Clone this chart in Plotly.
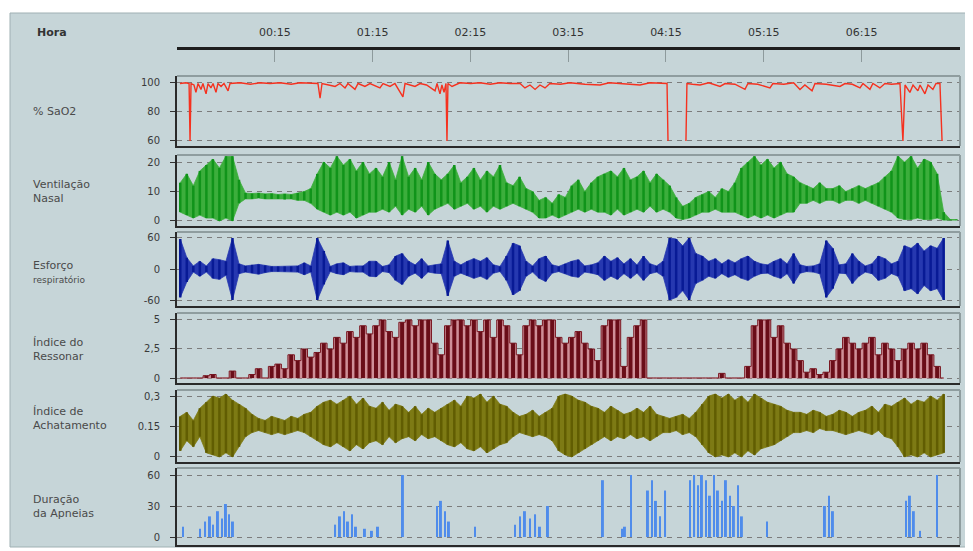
import plotly.graph_objects as go

# The page body has an 8px margin, so the figure is sized to fit inside the 973x551 window
WIN_W, WIN_H = 973, 551
OFF = 8
FW, FH = WIN_W - OFF, WIN_H - OFF
BIN = 4  # minutes per envelope bin (time axis in minutes from 23:15)

tick_minutes = [60, 120, 180, 240, 300, 360, 420, 480]
tick_labels = ["00:15", "01:15", "02:15", "03:15", "04:15", "05:15", "06:15", "07:15"]

panel_labels = ["% SaO2", "Ventilação<br>Nasal",
                "Esforço<br><span style='font-size:9px'>respiratório</span>",
                "Índice do<br>Ressonar", "Índice de<br>Achatamento", "Duração<br>da Apneias"]

y_tickvals = [[60, 80, 100], [0, 10, 20], [-60, 0, 60], [0, 2.5, 5], [0, 0.15, 0.3], [0, 30, 60]]
y_ticktext = [["60", "80", "100"], ["0", "10", "20"], ["-60", "0", "60"], ["0", "2,5", "5"],
              ["0", "0.15", "0,3"], ["0", "30", "60"]]

# % SaO2 (minute, value)
sao2_t = [1.8, 5.5, 7.4, 8.0, 8.6, 10.4, 11.6, 12.9, 14.7, 15.9, 17.8, 19.0, 20.8, 22.1, 23.9, 25.1, 27.0, 28.8,
          31.3, 32.5, 38.6, 45, 50.9, 57, 63.1, 70, 75.4, 82, 86.4, 87.7, 88.9, 93, 96.9, 99.9, 103.0, 104.8,
          109.1, 111.0, 115.2, 118.3, 124.4, 126.3, 130.6, 133.6, 138.5, 139.8, 145.9, 149.0, 153, 158.2, 159.4,
          161.2, 162.4, 163.7, 164.9, 165.5, 166.1, 168.6, 173.5, 180, 185.7, 192, 198.0, 204, 210.3, 213.3,
          216.4, 219.5, 222.5, 225.6, 228.6, 235, 240.9, 250, 259.3, 265, 271.6, 278, 283.8, 290, 296.1, 300.4,
          301.0, 302, 312.0, 312.6, 316, 320.6, 326, 332.9, 336, 342, 348.2, 350.0, 356, 363.5, 365.3, 372, 378,
          381.9, 384.9, 389.3, 391.1, 398, 406.4, 409.5, 414, 418.7, 420.5, 424.8, 426.6, 430.9, 434.0, 438,
          443.2, 445.0, 446.3, 449.3, 451.2, 454.2, 455.5, 458.5, 460.4, 463.4, 465.3, 467.7, 469.0]
sao2_v = [99, 99.5, 99, 60, 99, 98, 93, 99, 95, 99, 92, 99, 96, 99, 93, 99, 97, 99,
          94, 99, 99.5, 98.5, 99.5, 99, 99.5, 98.5, 99.5, 99, 99, 89, 99, 98, 97, 99, 96, 99,
          95, 99, 97, 99, 96, 99, 97, 99, 90, 99, 97, 99, 98, 94, 99,
          92, 98, 93, 99, 60, 99, 97, 99.5, 99, 99.5, 98.5, 99.5, 99, 99, 96,
          98, 95, 98, 96, 99, 98.5, 99.5, 98.5, 98, 99.5, 99, 98.5, 98, 99.5, 99, 99,
          60, None, 60, 99, 98.5, 98, 99.5, 97, 99, 98.5, 95, 99, 98.5, 96, 99, 98.5, 99.5,
          95, 98, 94, 99, 98.5, 97, 99, 98.5, 96, 99, 95, 99, 96, 99, 98.5,
          99, 60, 98, 93, 98, 94, 98, 92, 98, 95, 99, 99, 60]

# Ventilação Nasal envelope per 4-minute bin
vent_lo = [3, 2, 1, 2, 1, 1, 0, 1, 0, 6, 7.5, 7.5, 7.8, 7.5, 7.5, 7.5, 7.3, 7.5, 7, 7,
           6, 4, 3, 2, 3, 2, 3, 1, 2, 3, 3, 4, 3, 5, 2, 4, 3, 5, 2, 4,
           5, 6, 4, 5, 6, 4, 5, 3, 5, 4, 5, 6, 5, 4, 3, 1, 1, 2, 1, 2,
           3, 4, 3, 4, 3, 3, 2, 4, 2, 3, 4, 3, 5, 3, 4, 3, 1, 0.5, 1, 2,
           3, 3, 4, 3, 3, 3, 2, 1, 2, 1, 2, 1, 2, 3, 3, 6, 6, 7, 6, 7,
           7, 6, 7, 7, 6, 7, 6, 5, 4, 3, 1, 0.5, 0.5, 1, 0.5, 0.5, 1, 0.3, 0.3, 0.3]
vent_hi = [13, 16, 12, 17, 19, 21, 18, 22, 22, 14, 9.5, 9.3, 9.5, 9.2, 9.3, 9, 9.2, 9, 9.5, 10,
           11, 16, 20, 18, 22, 19, 21, 17, 20, 16, 18, 15, 20, 14, 22, 15, 18, 14, 20, 16,
           14, 16, 19, 13, 15, 18, 14, 17, 15, 19, 13, 12, 15, 11, 10, 7, 8, 6, 9, 8,
           12, 14, 10, 13, 15, 16, 17, 15, 18, 14, 15, 17, 13, 16, 14, 12, 8, 5, 6, 8,
           9, 10, 8, 11, 10, 13, 18, 20, 22, 19, 21, 18, 20, 16, 15, 13, 12, 11, 13, 11,
           11, 12, 10, 11, 12, 11, 12, 13, 15, 17, 22, 20, 22, 18, 21, 20, 16, 3, 0.5, 0.5]

# Esforço respiratório envelope
esf_hi = [58, 22, 6, 15, 6, 20, 18, 15, 60, 10, 6, 8, 9, 7, 5, 5, 5, 5, 6, 12,
          6, 60, 35, 5, 10, 12, 5, 6, 6, 15, 15, 5, 8, 25, 30, 15, 8, 20, 6, 8,
          10, 55, 15, 8, 15, 20, 15, 22, 8, 5, 25, 50, 45, 15, 6, 20, 25, 8, 5, 10,
          15, 18, 6, 8, 12, 25, 15, 22, 10, 20, 8, 25, 10, 6, 15, 60, 58, 45, 60, 30,
          25, 15, 20, 10, 18, 12, 20, 25, 15, 10, 8, 15, 20, 10, 30, 8, 5, 6, 10, 55,
          40, 8, 10, 30, 15, 6, 10, 25, 20, 10, 15, 45, 40, 50, 35, 45, 40, 60, None, None]
esf_lo = [-55, -25, -6, -14, -6, -18, -20, -12, -60, -9, -6, -8, -10, -7, -5, -5, -5, -5, -6, -11,
          -6, -60, -30, -5, -9, -11, -5, -6, -6, -14, -15, -5, -7, -22, -30, -14, -8, -18, -6, -8,
          -9, -52, -14, -8, -13, -18, -14, -20, -8, -5, -22, -50, -42, -14, -6, -18, -24, -8, -5, -9,
          -14, -16, -6, -8, -11, -22, -14, -20, -9, -18, -8, -22, -9, -6, -14, -60, -55, -42, -60, -28,
          -22, -14, -18, -9, -16, -11, -18, -22, -14, -9, -8, -14, -18, -9, -28, -8, -5, -6, -9, -55,
          -38, -8, -9, -28, -14, -6, -9, -22, -18, -9, -14, -42, -38, -48, -32, -42, -38, -60, None, None]

# Índice do Ressonar (upper envelope, from 0)
ress_hi = [0, 0, 0, 0, 0.2, 0.3, 0, 0, 0.6, 0, 0, 0.3, 0.8, 0, 1.0, 1.2, 0.8, 2.0, 1.5, 2.5,
           1.8, 2.2, 3.0, 2.5, 3.5, 3.0, 4.0, 3.5, 4.5, 3.8, 4.5, 5, 4.0, 3.5, 4.8, 5, 4.5, 5, 5, 3.0,
           2.0, 4.5, 5, 5, 4.5, 5, 4.0, 5, 3.5, 5, 4.5, 3.0, 2.0, 4.5, 5, 4.5, 5, 5, 3.5, 3.0,
           3.5, 4, 3, 2.5, 1.5, 4.5, 5, 5, 1.0, 3.5, 4.5, 5, 0, 0, 0, 0, 0, 0, 0, 0,
           0, 0, 0, 0.4, 0, 0, 0, 1.0, 4.5, 5, 5, 3.5, 4.5, 3.0, 2.5, 1.5, 0.5, 0.8, 0.3, 0.5,
           1.5, 2.5, 3.5, 3.0, 2.5, 3.0, 3.5, 2.0, 3.0, 2.5, 1.5, 2.5, 3.0, 2.5, 3.0, 2.0, 1.0, 0, None, None]
ress_lo = [0 if v is not None else None for v in ress_hi]

# Índice de Achatamento envelope
ach_lo = [0.03, 0.08, 0.05, 0.10, 0.02, 0.01, 0.0, 0.02, 0.0, 0.05, 0.10, 0.12, 0.13, 0.12, 0.11,
          0.12, 0.11, 0.12, 0.13, 0.12, 0.10, 0.08, 0.06, 0.05, 0.07, 0.05, 0.03, 0.06, 0.04, 0.07,
          0.08, 0.06, 0.10, 0.07, 0.09, 0.10, 0.08, 0.11, 0.09, 0.10, 0.08, 0.06, 0.05, 0.07, 0.04,
          0.03, 0.05, 0.02, 0.04, 0.06, 0.07, 0.10, 0.12, 0.11, 0.10, 0.11, 0.10, 0.08, 0.03, 0.01,
          0.0, 0.02, 0.04, 0.06, 0.08, 0.10, 0.08, 0.10, 0.09, 0.11, 0.09, 0.10, 0.08, 0.10, 0.12,
          0.12, 0.13, 0.11, 0.12, 0.10, 0.06, 0.02, 0.0, 0.01, 0.0, 0.02, 0.0, 0.03, 0.01, 0.04,
          0.05, 0.06, 0.08, 0.10, 0.12, 0.12, 0.13, 0.12, 0.14, 0.13, 0.13, 0.12, 0.11, 0.12, 0.13,
          0.12, 0.11, 0.13, 0.10, 0.09, 0.05, 0.0, 0.01, 0.0, 0.02, 0.0, 0.01, 0.02, None, None]
ach_hi = [0.20, 0.22, 0.18, 0.24, 0.27, 0.30, 0.29, 0.31, 0.28, 0.26, 0.24, 0.21, 0.19, 0.18, 0.20,
          0.19, 0.18, 0.20, 0.19, 0.21, 0.22, 0.25, 0.27, 0.28, 0.26, 0.28, 0.30, 0.26, 0.29, 0.25,
          0.24, 0.27, 0.23, 0.26, 0.25, 0.22, 0.25, 0.21, 0.24, 0.22, 0.24, 0.26, 0.28, 0.25, 0.30,
          0.29, 0.31, 0.27, 0.30, 0.26, 0.25, 0.22, 0.20, 0.21, 0.23, 0.20, 0.22, 0.24, 0.30, 0.31,
          0.30, 0.28, 0.27, 0.25, 0.24, 0.22, 0.25, 0.23, 0.21, 0.22, 0.24, 0.22, 0.25, 0.21, 0.20,
          0.19, 0.20, 0.21, 0.19, 0.22, 0.26, 0.30, 0.31, 0.29, 0.31, 0.28, 0.30, 0.27, 0.31, 0.29,
          0.27, 0.26, 0.25, 0.23, 0.22, 0.22, 0.21, 0.23, 0.22, 0.20, 0.21, 0.23, 0.22, 0.20, 0.22,
          0.23, 0.25, 0.22, 0.26, 0.25, 0.27, 0.29, 0.26, 0.28, 0.27, 0.30, 0.28, 0.31, None, None]

# Duração da Apneias (minute, seconds)
apn_t = [3.7, 14.1, 17.2, 20.2, 22.1, 25.1, 27.6, 30.0, 31.9, 34.3, 96.9, 99.9, 102.4, 104.8, 107.3, 109.7,
         115.2, 119.5, 123.2, 138.5, 159.4, 161.8, 164.3, 166.7, 182.7, 207.2, 210.3, 213.3, 216.4, 219.5,
         222.5, 227.4, 261.1, 272.8, 274.6, 278.3, 288.7, 291.2, 293.6, 296.1, 299.2, 314.5, 317.0, 319.4,
         321.8, 324.3, 326.7, 329.2, 331.6, 334.1, 336.5, 339.0, 341.4, 343.9, 346.3, 361.7, 397.2, 399.7,
         402.1, 446.9, 449.3, 451.7, 455.5, 465.9]
apn_h = [10, 8, 15, 20, 12, 25, 18, 32, 22, 15, 12, 20, 25, 15, 22, 10,
         8, 6, 10, 60, 30, 35, 25, 15, 10, 12, 20, 25, 18, 22,
         10, 30, 55, 8, 10, 60, 45, 55, 35, 20, 45, 55, 60, 50,
         60, 55, 40, 60, 45, 35, 55, 40, 30, 50, 20, 15, 30, 40,
         25, 35, 40, 25, 6, 60]

# ---------------- layout geometry (window pixels) ----------------
X0, X1 = 177, 960
panel_px = [(76, 146), (155, 226), (232, 306), (313, 383), (390, 462), (468, 545)]
y_ranges = [[56.6, 104.1], [-1.7, 22.4], [-71.6, 71.6], [-0.43, 5.6], [-0.025, 0.33], [-7.7, 66.8]]
label_y = [112, 191, 272, 349, 418, 506]


def px(x):
    return (x - OFF) / FW


def py(y):
    return 1 - (y - OFF) / FH


fig = go.Figure()


def ax(k):
    return ('x', 'y') if k == 0 else ('x%d' % (k + 1), 'y%d' % (k + 1))


def add_band(k, lo, hi, streak_color, fill_color, streak_w, shape='linear', edge_color=None):
    xa, ya = ax(k)
    mids = [i * BIN + 2 for i in range(len(lo))]
    fig.add_trace(go.Scatter(x=mids, y=lo, mode='lines', line=dict(width=0.8, color=fill_color, shape=shape),
                             xaxis=xa, yaxis=ya, hoverinfo='skip'))
    fig.add_trace(go.Scatter(x=mids, y=hi, mode='lines',
                             line=dict(width=1 if edge_color else 0.8, color=edge_color or fill_color, shape=shape),
                             fill='tonexty', fillcolor=fill_color, xaxis=xa, yaxis=ya, hoverinfo='skip'))
    sx, sy = [], []
    for m, a, b in zip(mids, lo, hi):
        if a is None or b is None:
            continue
        sx += [m, m, None]
        sy += [a, b, None]
    fig.add_trace(go.Scatter(x=sx, y=sy, mode='lines', line=dict(width=streak_w, color=streak_color),
                             xaxis=xa, yaxis=ya, hoverinfo='skip'))


# Panel 1: SaO2
fig.add_trace(go.Scatter(x=sao2_t, y=sao2_v, mode='lines', line=dict(width=1.4, color='#f5311f'),
                         connectgaps=False, xaxis='x', yaxis='y'))
# Panel 2: Ventilation
add_band(1, vent_lo, vent_hi, '#10941a', '#3cae3c', 2.5)
# Panel 3: Effort
add_band(2, esf_lo, esf_hi, '#081a96', '#2638b0', 2.5)
# Panel 4: Snoring
add_band(3, ress_lo, ress_hi, '#6a0d18', '#cf8f98', 4, shape='hvh', edge_color='#7a1822')
# Panel 5: Flattening
add_band(4, ach_lo, ach_hi, '#615d02', '#7d7a14', 2.5)
# Panel 6: Apneas
fig.add_trace(go.Bar(x=apn_t, y=apn_h, width=1.2, marker=dict(color='#4f8ceb', line=dict(width=0)),
                     xaxis='x6', yaxis='y6'))
# Top time axis carrier
fig.add_trace(go.Scatter(x=[0, 480], y=[None, None], mode='lines', xaxis='x7', yaxis='y'))

layout = dict(width=FW, height=FH, margin=dict(l=0, r=0, t=0, b=0), paper_bgcolor='white',
              plot_bgcolor='white', showlegend=False,
              font=dict(family='DejaVu Sans', color='#444'))
shapes = [dict(type='rect', xref='paper', yref='paper', x0=px(10), x1=px(967), y0=py(547), y1=py(13),
               fillcolor='#c6d5d8', line=dict(color='#9fb0b3', width=1), layer='below')]
annotations = []
for k in range(6):
    sx = '' if k == 0 else str(k + 1)
    top, bot = panel_px[k]
    layout['xaxis' + sx] = dict(domain=[px(X0), px(X1)], range=[0, 480], anchor='y' + sx,
                                showticklabels=False, ticks='', showgrid=False, zeroline=False,
                                showline=True, linecolor='#2a2a2a', linewidth=2, fixedrange=True)
    layout['yaxis' + sx] = dict(domain=[py(bot), py(top)], range=y_ranges[k], anchor='x' + sx,
                                tickvals=y_tickvals[k], ticktext=y_ticktext[k], ticks='outside', ticklen=5,
                                tickcolor='#333', tickfont=dict(size=10, color='#3a3a3a'),
                                ticklabelstandoff=8,
                                showgrid=True, gridcolor='#7c7c7c', griddash='5px,5px', gridwidth=1,
                                zeroline=False, showline=True, linecolor='#2a2a2a', linewidth=2,
                                fixedrange=True)
    # lighter top / right frame edges
    shapes.append(dict(type='line', xref='paper', yref='paper', x0=px(X0), x1=px(X1),
                       y0=py(top), y1=py(top), line=dict(color='#8f9d9f', width=2), layer='above'))
    shapes.append(dict(type='line', xref='paper', yref='paper', x0=px(X1), x1=px(X1),
                       y0=py(bot), y1=py(top), line=dict(color='#8f9d9f', width=2), layer='above'))
    annotations.append(dict(xref='paper', yref='paper', x=px(31), y=py(label_y[k]), xanchor='left',
                            yanchor='middle', align='left', showarrow=False, text=panel_labels[k],
                            font=dict(size=11, color='#4a4a4a')))

layout['xaxis7'] = dict(overlaying='x', anchor='free', position=py(48), side='top', range=[0, 480.4],
                        tickvals=tick_minutes, ticktext=tick_labels, ticks='inside', ticklen=12,
                        tickcolor='#8d9a9c', showline=True, linecolor='#1e1e1e', linewidth=2.5,
                        ticklabelstandoff=7,
                        showgrid=False, zeroline=False, tickfont=dict(size=11, color='#333'),
                        fixedrange=True)
annotations.append(dict(xref='paper', yref='paper', x=px(35), y=py(33), xanchor='left', yanchor='middle',
                        showarrow=False, text='<b>Hora</b>', font=dict(size=11, color='#333')))
layout['shapes'] = shapes
layout['annotations'] = annotations
fig.update_layout(**layout)
fig.write_html("out.html")
